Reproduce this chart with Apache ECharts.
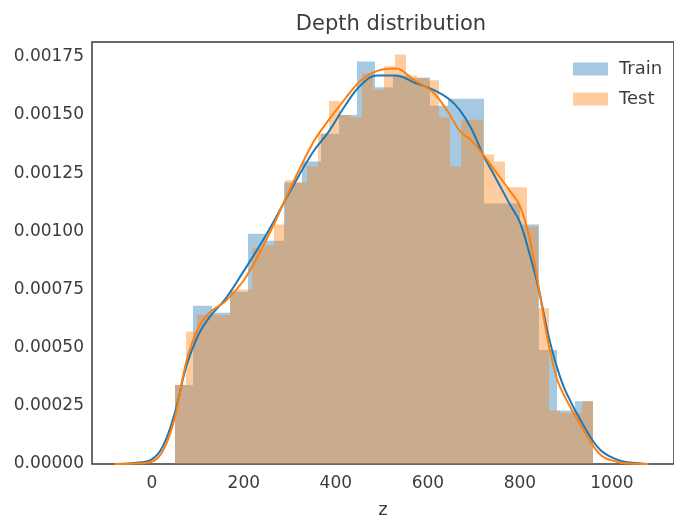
<!DOCTYPE html>
<html>
<head>
<meta charset="utf-8">
<script src="https://cdn.jsdelivr.net/npm/echarts@6/dist/echarts.min.js"></script>
<style>
  html, body { margin: 0; padding: 0; background: #fff; }
  #chart { width: 674px; height: 524px; }
</style>
</head>
<body>
<div id="chart"></div>
<script>
// histogram bin edges (z)
const trainEdges = [51, 90.5, 130, 169.4, 208.9, 248.4, 287.9, 327.3, 366.8, 406.3, 445.8, 485.3,
  524.7, 564.2, 603.7, 643.2, 682.7, 722.1, 761.6, 801.1, 840.6, 880.0, 919.5, 959]
const testEdges = [51, 74.9, 98.8, 122.7, 146.6, 170.5, 194.4, 218.3, 242.2, 266.1, 290, 313.8,
  337.7, 361.6, 385.5, 409.4, 433.3, 457.2, 481.1, 505, 528.9, 552.8, 576.7, 600.6, 624.5,
  648.4, 672.3, 696.2, 720, 743.9, 767.8, 791.7, 815.6, 839.5, 863.4, 887.3, 911.2, 935.1, 959]

// histogram densities
const trainHist = [0.00034, 0.00068, 0.00065, 0.00074, 0.00099, 0.00096, 0.00121, 0.00130,
  0.00142, 0.00150, 0.00173, 0.00162, 0.00167, 0.00166, 0.00154, 0.00157, 0.00157, 0.00112,
  0.00112, 0.00103, 0.00049, 0.00023, 0.00027]
const testHist = [0.00034, 0.00057, 0.00064, 0.00064, 0.00064, 0.00075, 0.00075, 0.00093,
  0.00094, 0.00103, 0.00122, 0.00121, 0.00128, 0.00142, 0.00156, 0.00150, 0.00149, 0.00168,
  0.00161, 0.00171, 0.00176, 0.00167, 0.00166, 0.00165, 0.00149, 0.00128, 0.00148, 0.00148,
  0.00133, 0.00130, 0.00119, 0.00119, 0.00102, 0.00067, 0.00023, 0.00022, 0.00022, 0.00027]

// kde curves
const kdeX = [-80, -40, 0, 25, 50, 75, 100, 125, 160, 200, 235, 270, 300, 350, 385, 420, 455,
  490, 530, 570, 610, 645, 670, 695, 720, 750, 780, 800, 820, 840, 860, 880, 900, 940, 975,
  1010, 1040, 1080]
const trainKde = [0, 0.000004, 0.00002, 0.00008, 0.00022, 0.00042, 0.00055, 0.00063, 0.00071,
  0.00083, 0.00094, 0.00106, 0.00117, 0.00134, 0.00143, 0.00154, 0.00163, 0.00167, 0.00167,
  0.00164, 0.00161, 0.00157, 0.00152, 0.00144, 0.00133, 0.00122, 0.00111, 0.00104, 0.00091,
  0.00076, 0.00057, 0.00042, 0.00031, 0.00016, 0.00006, 0.00002, 0.000006, 0]
const testKde = [0, 0.000002, 0.00001, 0.00006, 0.00020, 0.00044, 0.00058, 0.00065, 0.00070,
  0.00079, 0.00091, 0.00105, 0.00118, 0.00138, 0.00148, 0.00157, 0.00165, 0.00169, 0.00170,
  0.00165, 0.00160, 0.00151, 0.00143, 0.00139, 0.00133, 0.00125, 0.00117, 0.00111, 0.00098,
  0.00077, 0.00054, 0.00037, 0.00028, 0.00014, 0.00004, 0.00001, 0.000002, 0]

const xTicks = [0, 200, 400, 600, 800, 1000]
const yTicks = [0, 0.00025, 0.0005, 0.00075, 0.001, 0.00125, 0.0015, 0.00175]

const font = 'DejaVu Sans'
const textColor = '#3c3c3c'

const toBins = (edges, vals) => vals.map((v, i) => [edges[i], edges[i + 1], v])
const toLine = (xs, ys) => xs.map((x, i) => [x, ys[i]])

const renderBar = (params, api) => {
  const p0 = api.coord([api.value(0), api.value(2)])
  const p1 = api.coord([api.value(1), 0])
  // snap to whole pixels so neighbouring bars don't leave seams
  const x0 = Math.round(p0[0])
  const x1 = Math.round(p1[0])
  return {
    type: 'rect',
    shape: { x: x0, y: p0[1], width: x1 - x0, height: p1[1] - p0[1] },
    style: { fill: api.visual('color') }
  }
}

const myChart = echarts.init(document.getElementById('chart'), null, { renderer: 'canvas' })

const options = {
  animation: false,
  title: {
    text: 'Depth distribution',
    left: 386,
    top: 9,
    textAlign: 'center',
    textStyle: { fontFamily: font, fontSize: 21, fontWeight: 'normal', color: textColor }
  },
  legend: {
    data: ['Train', 'Test'],
    orient: 'vertical',
    left: 568,
    top: 55,
    itemWidth: 35,
    itemHeight: 13,
    itemGap: 12,
    icon: 'rect',
    textStyle: { fontFamily: font, fontSize: 18, color: textColor, padding: [0, 0, 0, 6] }
  },
  grid: {
    left: 92,
    top: 42,
    right: -4,
    bottom: 57,
    show: true,
    borderColor: '#3a3a3a',
    borderWidth: 1.5,
    containLabel: false
  },
  xAxis: {
    type: 'value',
    min: -130,
    max: 1135,
    name: 'z',
    nameLocation: 'middle',
    nameGap: 37,
    nameTextStyle: { fontFamily: font, fontSize: 18, color: textColor },
    axisLine: { show: false },
    axisTick: { show: false },
    splitLine: { show: false },
    axisLabel: {
      customValues: xTicks,
      margin: 11,
      fontFamily: font,
      fontSize: 17,
      color: textColor,
      formatter: v => String(v)
    }
  },
  yAxis: {
    type: 'value',
    min: 0,
    max: 0.001814,
    axisLine: { show: false },
    axisTick: { show: false },
    splitLine: { show: false },
    axisLabel: {
      customValues: yTicks,
      margin: 8,
      fontFamily: font,
      fontSize: 17,
      color: textColor,
      formatter: v => v.toFixed(5)
    }
  },
  series: [
    {
      name: 'Train',
      type: 'custom',
      renderItem: renderBar,
      itemStyle: { color: 'rgba(31,119,180,0.4)' },
      encode: { x: [0, 1], y: 2 },
      data: toBins(trainEdges, trainHist),
      z: 1
    },
    {
      name: 'Train kde',
      type: 'line',
      data: toLine(kdeX, trainKde),
      smooth: 0.4,
      showSymbol: false,
      lineStyle: { color: '#1f77b4', width: 2 },
      itemStyle: { color: '#1f77b4' },
      z: 3
    },
    {
      name: 'Test',
      type: 'custom',
      renderItem: renderBar,
      itemStyle: { color: 'rgba(255,127,14,0.4)' },
      encode: { x: [0, 1], y: 2 },
      data: toBins(testEdges, testHist),
      z: 2
    },
    {
      name: 'Test kde',
      type: 'line',
      data: toLine(kdeX, testKde),
      smooth: 0.4,
      showSymbol: false,
      lineStyle: { color: '#ff7f0e', width: 2 },
      itemStyle: { color: '#ff7f0e' },
      z: 4
    }
  ]
}

myChart.setOption(options)
</script>
</body>
</html>
